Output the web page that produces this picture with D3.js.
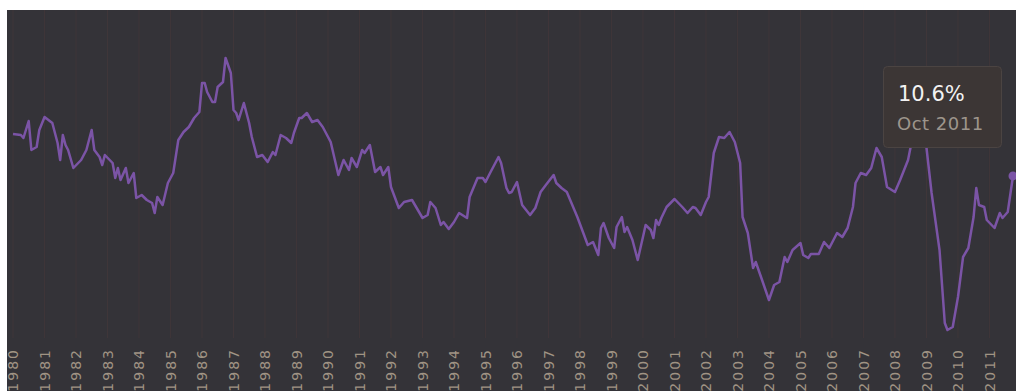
<!DOCTYPE html>
<html><head><meta charset="utf-8">
<script src="https://cdn.jsdelivr.net/npm/d3@7"></script>
<style>
html,body{margin:0;padding:0;background:#fff;}
svg{display:block;font-family:"DejaVu Sans",Verdana,sans-serif;}
</style></head>
<body>
<svg id="chart" width="1016" height="391"></svg>
<script>
const dates = ["1980-01","1980-04","1980-05","1980-07","1980-08","1980-10","1980-11","1981-01","1981-04","1981-06","1981-07","1981-08","1981-09","1981-10","1981-12",
"1982-03","1982-05","1982-07","1982-08","1982-10","1982-11","1982-12","1983-03","1983-04","1983-05","1983-06","1983-08","1983-09","1983-11","1983-12",
"1984-02","1984-04","1984-06","1984-07","1984-08","1984-10","1984-12","1985-02","1985-04","1985-06","1985-08","1985-10","1985-12",
"1986-01","1986-02","1986-03","1986-05","1986-06","1986-07","1986-09","1986-10","1986-12","1987-01","1987-02","1987-03","1987-05","1987-07","1987-08","1987-10","1987-12",
"1988-02","1988-04","1988-05","1988-07","1988-09","1988-11","1988-12","1989-02","1989-03","1989-05","1989-07","1989-09","1989-11",
"1990-02","1990-05","1990-07","1990-09","1990-10","1990-12","1991-02","1991-03","1991-05","1991-07","1991-09","1991-10","1991-12",
"1992-01","1992-04","1992-06","1992-09","1993-01","1993-03","1993-04","1993-06","1993-08","1993-09","1993-11",
"1994-01","1994-03","1994-06","1994-07","1994-10","1994-12","1995-01","1995-03","1995-06","1995-07","1995-09","1995-10","1995-11",
"1996-01","1996-03","1996-06","1996-08","1996-10","1996-12","1997-03","1997-04","1997-06","1997-08","1997-12",
"1998-04","1998-06","1998-08","1998-09","1998-10","1998-12","1999-02","1999-03","1999-05","1999-06","1999-07","1999-09","1999-11",
"2000-01","2000-02","2000-04","2000-05","2000-06","2000-07","2000-08","2000-10","2001-01","2001-04","2001-06","2001-08","2001-09","2001-11",
"2002-01","2002-02","2002-04","2002-06","2002-08","2002-10","2002-12","2003-02","2003-03","2003-05","2003-07","2003-08","2003-10",
"2004-01","2004-03","2004-05","2004-07","2004-08","2004-10","2005-01","2005-02","2005-04","2005-05","2005-08","2005-10","2005-12",
"2006-03","2006-05","2006-07","2006-09","2006-10","2006-12","2007-02","2007-04","2007-06","2007-08","2007-10",
"2008-01","2008-03","2008-06","2008-07","2008-09","2009-01","2009-03","2009-06","2009-08","2009-09","2009-11",
"2010-01","2010-03","2010-05","2010-07","2010-08","2010-09","2010-11","2010-12","2011-03","2011-05","2011-06","2011-08","2011-10"];
const values = [14.8,14.7,14.4,16.1,13.2,13.5,15.2,16.5,15.9,13.9,12.2,14.7,13.7,13.2,11.4,
12.2,13.2,15.2,13.2,12.5,11.7,12.7,11.9,10.4,11.4,10.2,11.4,9.9,10.9,8.4,
8.7,8.2,7.9,6.9,8.5,7.7,9.9,10.9,14.2,15.0,15.5,16.4,17.0,
19.9,19.9,19.0,18.0,18.0,19.5,20.0,22.4,20.9,17.2,16.9,16.2,17.9,15.9,14.5,12.5,12.7,
12.0,13.0,12.7,14.7,14.4,13.9,14.9,16.4,16.4,16.9,16.0,16.2,15.5,
14.0,10.7,12.2,11.2,12.4,11.5,13.2,12.9,13.7,11.0,11.5,10.7,11.5,
9.5,7.4,8.0,8.2,6.4,6.7,8.0,7.4,5.7,6.0,5.3,
6.0,6.9,6.4,8.5,10.4,10.4,10.0,11.0,12.5,11.9,9.4,8.9,9.0,
10.0,7.7,6.7,7.4,9.0,9.7,10.7,9.9,9.4,9.0,6.5,
3.7,4.0,2.7,5.4,5.9,4.4,3.4,5.5,6.5,5.0,5.5,4.2,2.2,
4.5,5.7,5.2,4.4,6.2,5.7,6.4,7.5,8.3,7.5,6.9,7.5,7.4,6.7,
8.0,8.5,12.9,14.5,14.4,15.0,14.0,11.9,6.5,4.9,1.4,2.0,0.5,
-1.8,-0.3,0.0,2.5,2.0,3.2,3.9,2.7,2.4,2.8,2.8,4.0,3.4,
4.9,4.5,5.4,7.5,9.9,10.9,10.7,11.4,13.4,12.5,9.5,
9.0,10.2,12.2,13.5,15.7,13.4,8.9,3.2,-4.1,-4.8,-4.5,
-1.5,2.5,3.4,6.5,9.4,7.7,7.5,6.2,5.4,6.9,6.4,7.0,10.6];
const yearLabels = d3.range(1980, 2012).map(String);
const monthNames = ["Jan","Feb","Mar","Apr","May","Jun","Jul","Aug","Sep","Oct","Nov","Dec"];

const parse = d3.timeParse("%Y-%m");
const data = dates.map((d,i)=>({date:parse(d), value:values[i]}));

const svg = d3.select("#chart");
const W = 1016, H = 391;

svg.append("rect").attr("x",7).attr("y",10).attr("width",W-7).attr("height",H-10).attr("fill","#343338");

const x = d3.scaleTime().domain([parse("1980-01"), parse("2011-10")]).range([13, 1013]);
const y = d3.scaleLinear().domain([-5, 25]).range([332, 32]);

// grid lines
svg.append("g").selectAll("line").data(yearLabels).join("line")
  .attr("x1", d=>x(parse(d+"-01"))).attr("x2", d=>x(parse(d+"-01")))
  .attr("y1", 10).attr("y2", 338)
  .attr("stroke","#3f3639").attr("stroke-width",1);

// year labels
svg.append("g").selectAll("text").data(yearLabels).join("text")
  .attr("transform", d=>`translate(${x(parse(d+"-01"))},348) rotate(-90)`)
  .attr("text-anchor","end").attr("dy","0.36em")
  .attr("font-size","14px").attr("letter-spacing","2px")
  .attr("fill","#a09484")
  .text(d=>d);

const line = d3.line().x(d=>x(d.date)).y(d=>y(d.value));
svg.append("path").datum(data).attr("d", line)
  .attr("fill","none").attr("stroke","#7b54a6").attr("stroke-width",2.5)
  .attr("stroke-linejoin","round");

const last = data[data.length-1];
svg.append("circle").attr("cx", x(last.date)).attr("cy", y(last.value)).attr("r",4.5).attr("fill","#7b54a6");

// tooltip
const tip = svg.append("g").attr("transform","translate(883,66)");
tip.append("rect").attr("x",0.5).attr("y",0.5).attr("width",118).attr("height",81).attr("rx",4)
  .attr("fill","#3c3635").attr("stroke","#4b4442");
tip.append("text").attr("x",15).attr("y",35).attr("font-size","21px").attr("fill","#f2f2f2")
  .text(last.value.toFixed(1)+"%");
tip.append("text").attr("x",14).attr("y",64).attr("font-size","18px").attr("letter-spacing","0.5px").attr("fill","#9d958c")
  .text(monthNames[last.date.getMonth()]+" "+last.date.getFullYear());
</script>
</body></html>
